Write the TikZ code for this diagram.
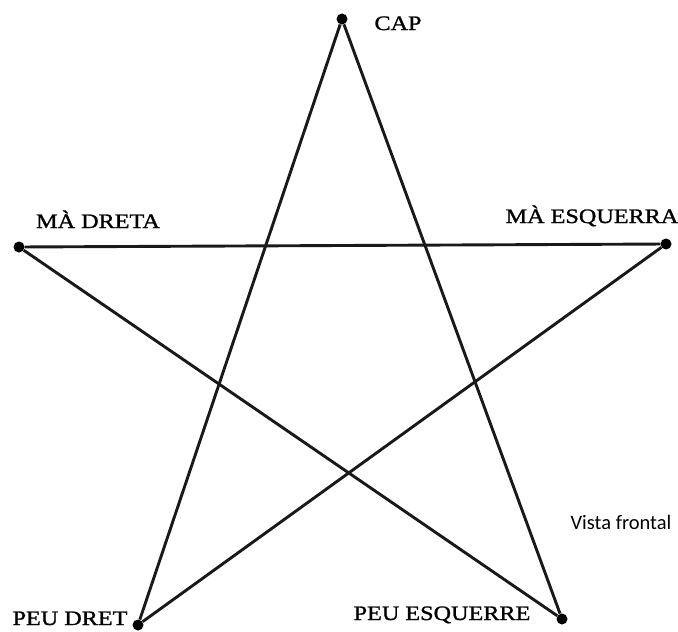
\documentclass[tikz,border=0pt]{standalone}
\usepackage{fontspec}
\newfontfamily\labfont[FakeStretch=1.18,FakeBold=1.2]{Liberation Serif}
\newfontfamily\vistafont{Carlito}
\begin{document}
\begin{tikzpicture}[x=1pt,y=-1pt,
  pt/.style={circle,fill=black,inner sep=0pt,minimum size=11pt},
  lab/.style={inner sep=0pt,font=\labfont\fontsize{20.5}{22}\selectfont},
  edge/.style={line width=2.9pt,black!90}]
\useasboundingbox (0,0) rectangle (678,632);
\node[pt] (cap) at (342,19) {};
\node[pt] (md) at (19,247) {};
\node[pt] (me) at (666,244) {};
\node[pt] (pd) at (138,625) {};
\node[pt] (pe) at (562,619) {};
\draw[edge] (cap) -- (pd);
\draw[edge] (cap) -- (pe);
\draw[edge] (md) -- (me);
\draw[edge] (md) -- (pe);
\draw[edge] (me) -- (pd);
\node[lab,anchor=base] (tcap) at (398,30) {CAP};
\node[lab,anchor=base] (tmd) at (98,228) {MÀ DRETA};
\node[lab,anchor=base] (tme) at (592,223) {MÀ ESQUERRA};
\node[lab,anchor=base] (tpd) at (70,625) {PEU DRET};
\node[lab,anchor=base] (tpe) at (442,620) {PEU ESQUERRE};
\node[inner sep=0pt,anchor=base,font=\vistafont\fontsize{20.5}{22}\selectfont] (vf) at (621,529) {Vista frontal};
\end{tikzpicture}
\end{document}
